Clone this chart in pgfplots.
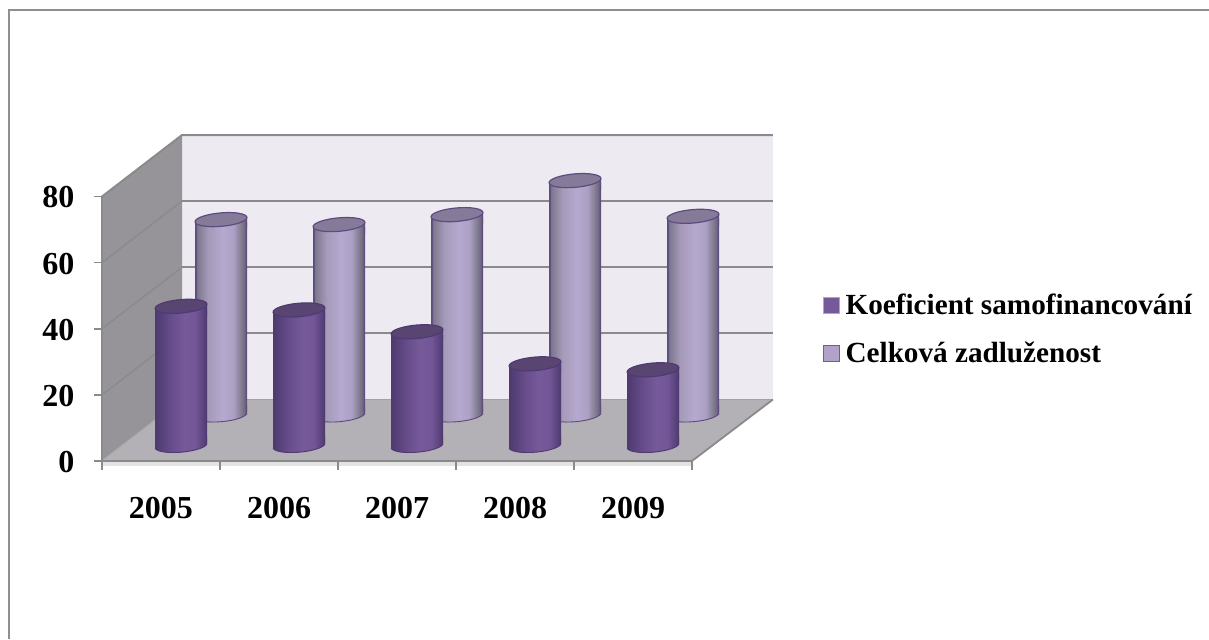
\documentclass[border=0pt]{standalone}
\usepackage{pgfplots}
\usepackage{pgfplotstable}
\pgfplotsset{compat=1.18}
\usepackage{fontspec}
\setmainfont{Liberation Serif}

\newlength{\px}\setlength{\px}{0.75pt}

\definecolor{framegray}{HTML}{8F8F8F}
\definecolor{wallside}{HTML}{969499}
\definecolor{wallback}{HTML}{EDEBF1}
\definecolor{wallfloor}{HTML}{B3B1B5}
\definecolor{gridgray}{HTML}{8A8A8A}
\definecolor{floorlip}{HTML}{E3E3E3}
\definecolor{kedge}{HTML}{4F3B72}
\definecolor{ktop}{HTML}{594571}
\definecolor{cedge}{HTML}{5E4B82}
\definecolor{ctop}{HTML}{857A98}
\definecolor{kfill}{HTML}{76599A}
\definecolor{cfill}{HTML}{B0A2C9}
\definecolor{csa}{HTML}{7D788C}
\definecolor{csb}{HTML}{A69BBA}
\definecolor{csc}{HTML}{B6A8CF}
\definecolor{csd}{HTML}{ACA0C3}
\definecolor{cse}{HTML}{736E80}

% cylinder surfaces: the central 50bp of a shading spans the shaded path
\pgfdeclarehorizontalshading{kshade}{100bp}{
  color(0bp)=(kedge); color(25bp)=(kedge); color(26bp)=(kedge);
  color(31bp)=(kedge!80!kfill); color(40bp)=(kedge!40!kfill);
  color(53bp)=(kfill); color(64bp)=(kfill!90!kedge); color(71bp)=(kedge!70!kfill);
  color(74bp)=(kedge); color(75bp)=(kedge); color(100bp)=(kedge)}
\pgfdeclarehorizontalshading{cshade}{100bp}{
  color(0bp)=(cedge); color(25bp)=(cedge); color(25.8bp)=(cedge);
  color(27bp)=(csa); color(38bp)=(csb);
  color(52bp)=(csc); color(62bp)=(csd);
  color(72bp)=(cse); color(74.2bp)=(cedge); color(75bp)=(cedge); color(100bp)=(cedge)}

% top of a cylinder: neck of the body under a tilted elliptical lid
\newcommand{\cylcap}[3]{%
  \begin{pgfscope}
    \pgfpathmoveto{\pgfqpoint{-26\px}{-2.3\px}}
    \pgfpathlineto{\pgfqpoint{26\px}{2.3\px}}
    \pgfpathlineto{\pgfqpoint{26\px}{-9\px}}
    \pgfpathlineto{\pgfqpoint{-26\px}{-9\px}}
    \pgfpathclose
    \pgfshadepath{#1}{0}
  \end{pgfscope}
  \begin{pgfscope}
    \pgfsetlinewidth{0.9pt}
    \pgfsetstrokecolor{#3}\pgfsetfillcolor{#2}
    \pgfpathellipse{\pgfpointorigin}{\pgfqpoint{25.9\px}{2.27\px}}{\pgfqpoint{-0.58\px}{6.7\px}}
    \pgfusepath{fill,stroke}
  \end{pgfscope}}
% foot of a cylinder: shaded ellipse with its lower rim
\newcommand{\cylfoot}[2]{%
  \begin{pgfscope}
    \pgfpathmoveto{\pgfqpoint{-26\px}{-2.3\px}}
    \pgfpathlineto{\pgfqpoint{26\px}{2.3\px}}
    \pgfpathlineto{\pgfqpoint{26\px}{9\px}}
    \pgfpathlineto{\pgfqpoint{-26\px}{9\px}}
    \pgfpathclose
    \pgfshadepath{#1}{0}
  \end{pgfscope}
  \begin{pgfscope}
    \pgfpathellipse{\pgfpointorigin}{\pgfqpoint{25.9\px}{2.27\px}}{\pgfqpoint{-0.58\px}{6.7\px}}
    \pgfshadepath{#1}{0}
  \end{pgfscope}
  \begin{pgfscope}
    \pgfsetlinewidth{0.7pt}
    \pgfsetstrokecolor{#2}
    \pgftransformrotate{5}
    \pgfpathmoveto{\pgfqpoint{-26\px}{0pt}}
    \pgfpatharc{180}{360}{26\px and 6.7\px}
    \pgfusepath{stroke}
  \end{pgfscope}}
\pgfdeclareplotmark{kcap}{\cylcap{kshade}{ktop}{kedge}}
\pgfdeclareplotmark{ccap}{\cylcap{cshade}{ctop}{cedge}}
\pgfdeclareplotmark{kfoot}{\cylfoot{kshade}{kedge}}
\pgfdeclareplotmark{cfoot}{\cylfoot{cshade}{cedge}}

\pgfplotstableread{
x    base  k     c
0.5  0     42.1  59.1
1.5  0     41.0  57.6
2.5  0     34.4  60.6
3.5  0     24.7  70.9
4.5  0     22.9  60.1
}\ratios

\pgfplotsset{
  cylinders/.style={
    scale only axis, width=590\px, height=264.5\px,
    xmin=0, xmax=5, ymin=1, ymax=81, hide axis, clip mode=individual},
  feet/.style={cylinders, ymin=-5, ymax=75},
  body/.style={ybar, bar width=52\px, bar shift=0pt, draw=none, shade, shading=#1}
}

\begin{document}
\begin{tikzpicture}
\path[use as bounding box] (0pt,0pt) rectangle (1209\px,639\px);
% outer chart frame
\draw[framegray, line width=2\px] (8.5\px,0pt) -- (8.5\px,628.5\px) -- (1209\px,628.5\px);

% front plane: ticks, labels, walls and floor
\begin{axis}[
  at={(102\px,178\px)}, anchor=south west,
  scale only axis, width=590\px, height=264.5\px,
  xmin=0, xmax=5, ymin=0, ymax=80, clip=false,
  axis lines=left, axis line style={-, gridgray, line width=2\px},
  axis on top,
  tick align=outside,
  major tick length=8\px, minor tick length=9\px,
  xtick={0.5,1.5,2.5,3.5,4.5},
  xticklabels={2005,2006,2007,2008,2009},
  minor xtick={0,1,2,3,4,5},
  xtick style={draw=none},
  minor x tick style={draw=gridgray, line width=1.6\px},
  ytick={0,20,40,60,80},
  y tick style={gridgray, line width=1.6\px},
  tick label style={font=\fontsize{24}{28}\selectfont\bfseries},
  /pgf/number format/assume math mode=true,
  xticklabel style={yshift=-24\px},
  yticklabel style={xshift=-15\px, yshift=-1\px},
  legend cell align=left,
  legend style={
    at={(axis cs:6.11,39.8)}, anchor=west, draw=none, fill=none,
    inner sep=0pt, outer sep=0pt,
    row sep=26\px,
    font=\fontsize{21.9}{26}\selectfont\bfseries,
    nodes={inner sep=0pt, outer sep=0pt}},
]
% walls and floor behind the plotted series
\addplot[forget plot, fill=wallback, draw=none] coordinates {(0.678,18.6) (5.686,18.6) (5.686,98.6) (0.678,98.6)} -- cycle;
\addplot[forget plot, fill=wallside, draw=none] coordinates {(0,0) (0,80) (0.678,98.6) (0.678,18.6)} -- cycle;
\addplot[forget plot, fill=wallfloor, draw=none] coordinates {(0,0) (5,0) (5.686,18.6) (0.678,18.6)} -- cycle;
\addplot[forget plot, fill=floorlip, draw=none] coordinates {(0,-0.4) (5,-0.4) (5,-1.5) (0,-1.5)} -- cycle;
% gridlines on the back wall
\addplot[forget plot, gridgray, line width=1.8\px] coordinates {(0.678,38.6) (5.686,38.6)};
\addplot[forget plot, gridgray, line width=1.8\px] coordinates {(0.678,58.6) (5.686,58.6)};
\addplot[forget plot, gridgray, line width=1.8\px] coordinates {(0.678,78.6) (5.686,78.6)};
\addplot[forget plot, gridgray, line width=2\px] coordinates {(0,80) (0.678,98.6) (5.686,98.6)};
\addplot[forget plot, gridgray!80!white, line width=1.4\px] coordinates {(0.678,18.6) (5.686,18.6)};
% gridlines on the side wall
\addplot[forget plot, gridgray, line width=1.4\px] coordinates {(0,20) (0.678,38.6)};
\addplot[forget plot, gridgray, line width=1.4\px] coordinates {(0,40) (0.678,58.6)};
\addplot[forget plot, gridgray, line width=1.4\px] coordinates {(0,60) (0.678,78.6)};
% floor edges
\addplot[forget plot, gridgray!70!white, line width=1.2\px] coordinates {(0,0) (0.678,18.6)};
\addplot[forget plot, gridgray, line width=1.8\px] coordinates {(5,0) (5.686,18.6)};
% legend
\addlegendimage{legend image code/.code={
  \draw[draw=cfill, fill=kfill, line width=1.2\px] (0pt,-8\px) rectangle (16\px,8\px);
  \path[draw=none] (0pt,0pt) -- (22\px,0pt);}}
\addlegendentry{Koeficient samofinancování}
\addlegendimage{legend image code/.code={
  \draw[draw=kfill, fill=cfill, line width=1.2\px] (0pt,-8\px) rectangle (16\px,8\px);
  \path[draw=none] (0pt,0pt) -- (22\px,0pt);}}
\addlegendentry{Celková zadluženost}
\end{axis}

% feet of the rear row
\begin{axis}[feet, at={(162\px,207.46\px)}, anchor=south west]
\addplot[only marks, mark=cfoot] table[x=x, y=base] {\ratios};
\end{axis}
% rear row of cylinders, one bar per year so that each gets its own shading
\begin{axis}[cylinders, at={(162\px,227.3\px)}, anchor=south west]
\pgfplotsinvokeforeach{0,1,2,3,4}{
  \addplot[body=cshade, restrict x to domain=#1.1:#1.9] table[x=x, y expr=\thisrow{c}-1] {\ratios};
}
\addplot[only marks, mark=ccap] table[x=x, y=c] {\ratios};
\end{axis}

% feet of the front row
\begin{axis}[feet, at={(122\px,176.96\px)}, anchor=south west]
\addplot[only marks, mark=kfoot] table[x=x, y=base] {\ratios};
\end{axis}
% front row of cylinders
\begin{axis}[cylinders, at={(122\px,196.8\px)}, anchor=south west]
\pgfplotsinvokeforeach{0,1,2,3,4}{
  \addplot[body=kshade, restrict x to domain=#1.1:#1.9] table[x=x, y expr=\thisrow{k}-1] {\ratios};
}
\addplot[only marks, mark=kcap] table[x=x, y=k] {\ratios};
\end{axis}
\end{tikzpicture}
\end{document}
